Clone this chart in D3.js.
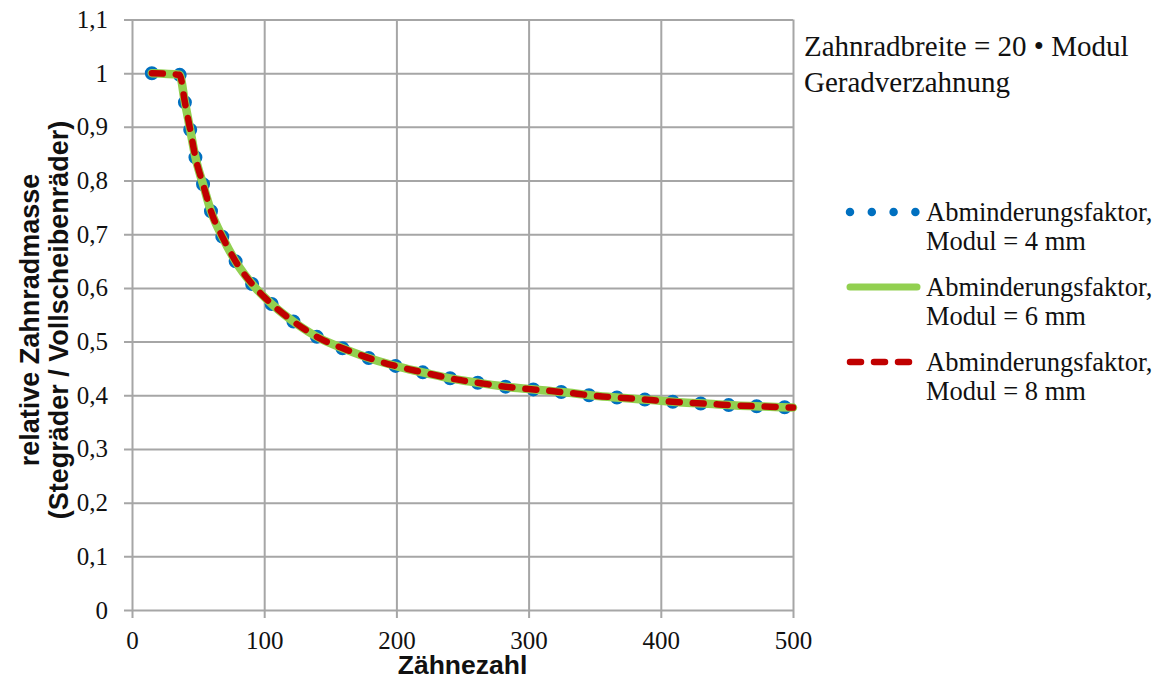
<!DOCTYPE html>
<html>
<head>
<meta charset="utf-8">
<script src="https://cdn.jsdelivr.net/npm/d3@7"></script>
<style>
  html, body { margin: 0; padding: 0; background: #ffffff; }
  svg { display: block; }
</style>
</head>
<body>
<svg id="chart" width="1158" height="684"></svg>
<script>
// Zähnezahl (x) and relative gear mass for the three module sizes
const zaehnezahl = [15, 36, 40, 44, 48, 54, 60, 69, 79, 92, 107, 124, 142, 162, 182, 202, 223, 244, 265, 286, 308, 329, 350, 372, 393, 414, 436, 457, 478, 500];
const modul4 = [1.000, 0.997, 0.946, 0.895, 0.843, 0.791, 0.741, 0.692, 0.647, 0.604, 0.567, 0.534, 0.506, 0.485, 0.467, 0.453, 0.441, 0.430, 0.422, 0.415, 0.410, 0.405, 0.399, 0.395, 0.391, 0.387, 0.384, 0.381, 0.379, 0.377];
const modul6 = [1.000, 0.997, 0.946, 0.895, 0.843, 0.791, 0.741, 0.692, 0.647, 0.604, 0.567, 0.534, 0.506, 0.485, 0.467, 0.453, 0.441, 0.430, 0.422, 0.415, 0.410, 0.405, 0.399, 0.395, 0.391, 0.387, 0.384, 0.381, 0.379, 0.377];
const modul8 = [1.000, 0.997, 0.946, 0.895, 0.843, 0.791, 0.741, 0.692, 0.647, 0.604, 0.567, 0.534, 0.506, 0.485, 0.467, 0.453, 0.441, 0.430, 0.422, 0.415, 0.410, 0.405, 0.399, 0.395, 0.391, 0.387, 0.384, 0.381, 0.379, 0.377];

const xTicks = [0, 100, 200, 300, 400, 500];
const yTicks = [0, 0.1, 0.2, 0.3, 0.4, 0.5, 0.6, 0.7, 0.8, 0.9, 1.0, 1.1];
const seriesNames = ["Modul = 4 mm", "Modul = 6 mm", "Modul = 8 mm"];
const seriesLabel = "Abminderungsfaktor,";
const noteLines = ["Zahnradbreite = 20 • Modul", "Geradverzahnung"];
const xTitle = "Zähnezahl";
const yTitleLines = ["relative Zahnradmasse", "(Stegräder / Vollscheibenräder)"];

const serif = "'Liberation Serif', 'Times New Roman', serif";
const sans = "'Liberation Sans', Arial, sans-serif";
const gridColor = "#a6a6a6";
const blue = "#0070C0", green = "#92D050", red = "#C00000";

const svg = d3.select("#chart");
const plot = { left: 132, right: 793, top: 19.5, bottom: 610 };

const x = d3.scaleLinear().domain([0, 500]).range([plot.left, plot.right]);
const y = d3.scaleLinear().domain([0, 1.1]).range([plot.bottom, plot.top]);
const fmt = v => d3.format(".1~f")(v).replace(".", ",");

// horizontal grid + y axis (ticks poke 8px out to the left)
const yAxis = d3.axisLeft(y).tickValues(yTicks).tickFormat(fmt)
  .tickSizeInner(-(plot.right - plot.left)).tickSizeOuter(0).tickPadding(24);
const gy = svg.append("g").attr("transform", `translate(${plot.left},0)`).call(yAxis);
gy.attr("font-family", null);
gy.select(".domain").remove();
gy.selectAll(".tick line").attr("x1", -8).attr("stroke", gridColor).attr("stroke-width", 2);
gy.selectAll(".tick text").style("font-family", serif).style("font-size", "25px").attr("fill", "#111");

// vertical grid + x axis (ticks poke 8px out below)
const xAxis = d3.axisBottom(x).tickValues(xTicks).tickFormat(d3.format("d"))
  .tickSizeInner(-(plot.bottom - plot.top)).tickSizeOuter(0).tickPadding(21);
const gx = svg.append("g").attr("transform", `translate(0,${plot.bottom})`).call(xAxis);
gx.attr("font-family", null);
gx.select(".domain").remove();
gx.selectAll(".tick line").attr("y1", 8).attr("stroke", gridColor).attr("stroke-width", 2);
gx.selectAll(".tick text").style("font-family", serif).style("font-size", "25px").attr("fill", "#111");

// axis titles
svg.append("text").attr("x", (plot.left + plot.right) / 2).attr("y", 674)
  .attr("text-anchor", "middle").style("font-family", sans).attr("font-weight", "bold")
  .style("font-size", "26.5px").attr("fill", "#111").text(xTitle);

const yt = svg.append("text").attr("transform", "translate(0,320) rotate(-90)")
  .attr("text-anchor", "middle").style("font-family", sans).attr("font-weight", "bold")
  .style("font-size", "27px").attr("fill", "#111");
yt.append("tspan").attr("x", 0).attr("y", 39).text(yTitleLines[0]);
yt.append("tspan").attr("x", 0).attr("y", 68).text(yTitleLines[1]);

// series: blue round dots, green solid, red dashed on top
const line = d3.line().x(d => x(d[0])).y(d => y(d[1])).curve(d3.curveMonotoneX);
const pts = vals => zaehnezahl.map((z, i) => [z, vals[i]]);

svg.append("path").datum(pts(modul4)).attr("d", line)
  .attr("fill", "none").attr("stroke", blue).attr("stroke-width", 14)
  .attr("stroke-linecap", "round").attr("stroke-dasharray", "0 28");
svg.append("path").datum(pts(modul6)).attr("d", line)
  .attr("fill", "none").attr("stroke", green).attr("stroke-width", 8.5)
  .attr("stroke-linecap", "round").attr("stroke-linejoin", "round");
svg.append("path").datum(pts(modul8)).attr("d", line)
  .attr("fill", "none").attr("stroke", red).attr("stroke-width", 6.5)
  .attr("stroke-linecap", "round").attr("stroke-linejoin", "round").attr("stroke-dasharray", "11 13");

// note text at top right
noteLines.forEach((t, i) => {
  svg.append("text").attr("x", 804).attr("y", 56 + i * 35.5)
    .style("font-family", serif).style("font-size", "29px").attr("fill", "#111").text(t);
});

// legend
const legendStyles = [
  { color: blue, width: 8.5, dash: "0 21.8", x2: 916.5 },
  { color: green, width: 7, dash: null, x2: 917 },
  { color: red, width: 6.5, dash: "11 13", x2: 917 }
];
const legendTop = [212, 287, 362];
seriesNames.forEach((name, i) => {
  const st = legendStyles[i];
  const ly = legendTop[i];
  const sym = svg.append("line")
    .attr("x1", 850).attr("x2", st.x2)
    .attr("y1", ly).attr("y2", ly)
    .attr("stroke", st.color).attr("stroke-width", st.width).attr("stroke-linecap", "round");
  if (st.dash) sym.attr("stroke-dasharray", st.dash);
  const tx = svg.append("text").style("font-family", serif).style("font-size", "26.5px").attr("fill", "#111");
  tx.append("tspan").attr("x", 926).attr("y", ly + 8.5).text(seriesLabel);
  tx.append("tspan").attr("x", 926).attr("y", ly + 38).text(name);
});
</script>
</body>
</html>
